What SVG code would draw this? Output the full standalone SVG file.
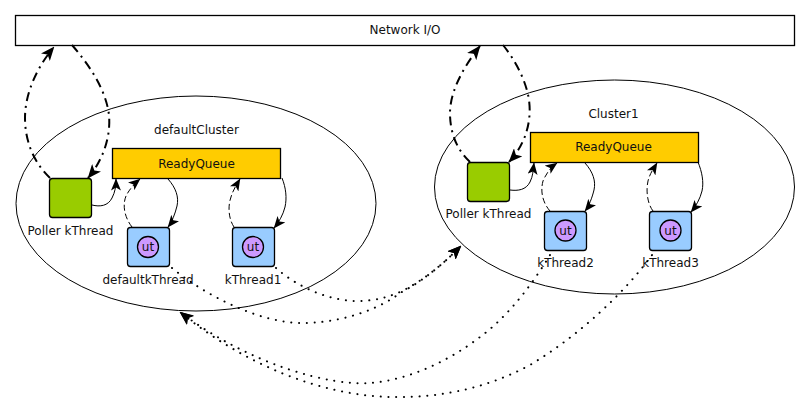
<svg xmlns="http://www.w3.org/2000/svg" width="809" height="413" viewBox="0 0 809 413">
<style>
text{font-family:"DejaVu Sans",sans-serif;font-size:12px;fill:#111;text-anchor:middle}
.b{stroke:#000;stroke-width:1.3}
.ell{fill:#fff;stroke:#000;stroke-width:1}
.c{fill:none;stroke:#000}
.s{stroke-width:1}
.d{stroke-width:1;stroke-dasharray:6 3}
.dd{stroke-width:2;stroke-dasharray:9 5 2 5}
.o{stroke-width:2;stroke-dasharray:0.1 7.7;stroke-linecap:round}
</style>
<defs>
<marker id="a" viewBox="0 0 12 10" refX="11.5" refY="5" markerWidth="12" markerHeight="10" markerUnits="userSpaceOnUse" orient="auto"><path d="M0,0L12,5L0,10L3,5Z" fill="#000"/></marker>
<marker id="A" viewBox="0 0 12 10" refX="11.5" refY="5" markerWidth="14" markerHeight="11.700" markerUnits="userSpaceOnUse" orient="auto"><path d="M0,0L12,5L0,10L3,5Z" fill="#000"/></marker>
</defs>
<rect width="809" height="413" fill="#fff"/>
<g id="network-io"><rect class="b" x="15.5" y="15.5" width="779" height="30" fill="#fff"/><text x="405" y="34">Network I/O</text></g>
<g id="defaultCluster"><ellipse class="ell" cx="196" cy="203.5" rx="180" ry="107.5"/><text x="196.500" y="134">defaultCluster</text></g>
<g id="Cluster1"><ellipse class="ell" cx="614.500" cy="187" rx="180" ry="107"/><text x="613.500" y="118">Cluster1</text></g>
<g id="rq0"><rect class="b" x="112.500" y="148.500" width="168" height="30" fill="#fc0"/><text x="196.500" y="168">ReadyQueue</text></g>
<g id="rq1"><rect class="b" x="530.500" y="132.500" width="168" height="30" fill="#fc0"/><text x="613.500" y="151">ReadyQueue</text></g>
<g id="poller0"><rect class="b" x="49.500" y="178.500" width="42" height="39" rx="3" fill="#9c0"/><text x="70.500" y="235">Poller kThread</text></g>
<g id="poller1"><rect class="b" x="467.500" y="162.500" width="42" height="39" rx="3" fill="#9c0"/><text x="488.500" y="218">Poller kThread</text></g>
<g id="defaultkThread"><rect class="b" x="127.500" y="227.500" width="42" height="39" rx="3" fill="#9cf"/><circle class="b" cx="148" cy="247" r="10.500" fill="#c9f"/><text x="148" y="251">ut</text><text x="148" y="284">defaultkThread</text></g>
<g id="kThread1"><rect class="b" x="232.500" y="227.500" width="42" height="39" rx="3" fill="#9cf"/><circle class="b" cx="253" cy="247" r="10.500" fill="#c9f"/><text x="253" y="251">ut</text><text x="253" y="284">kThread1</text></g>
<g id="kThread2"><rect class="b" x="544.500" y="211.500" width="42" height="39" rx="3" fill="#9cf"/><circle class="b" cx="565.500" cy="230.500" r="10.500" fill="#c9f"/><text x="565.500" y="267">kThread2</text><text x="565.500" y="234.500">ut</text></g>
<g id="kThread3"><rect class="b" x="649.500" y="211.500" width="42" height="39" rx="3" fill="#9cf"/><circle class="b" cx="670.500" cy="230.500" r="10.500" fill="#c9f"/><text x="670.500" y="267">kThread3</text><text x="670.500" y="234.500">ut</text></g>
<g id="connectors">
<path class="c dd" marker-end="url(#A)" d="M50,178C33,162 25,140 25,118C25,92 38,66 54,47"/>
<path class="c dd" marker-end="url(#A)" d="M72,45C90,66 106,90 109,115C111,137 103,160 88,178"/>
<path class="c dd" marker-end="url(#A)" d="M470,162C455,148 450,130 450,113C450,90 465,65 480,46"/>
<path class="c dd" marker-end="url(#A)" d="M503,45C515,60 526,80 529,100C532,122 525,145 509,162"/>
<path class="c s" marker-end="url(#a)" d="M92,205C100,207 108,206 112,198C115,192 116,187 116,179"/>
<path class="c s" marker-end="url(#a)" d="M510,190C518,191 526,190 530,182C533,176 533,171 534,163"/>
<path class="c d" marker-end="url(#a)" d="M132,227C125,218 122,206 126,196C129,190 134,184 140,179"/>
<path class="c d" marker-end="url(#a)" d="M234,227C228,218 228,205 231,197C233,190 237,184 240,179"/>
<path class="c d" marker-end="url(#a)" d="M550,211C543,203 540,192 543,181C546,174 550,168 557,163"/>
<path class="c d" marker-end="url(#a)" d="M653,211C647,203 646,190 648,181C650,173 654,168 657,163"/>
<path class="c s" marker-end="url(#a)" d="M168,179C176,188 179,197 177,206C175,214 172,222 168,227"/>
<path class="c s" marker-end="url(#a)" d="M282,178C286,188 287,198 285,207C283,215 279,222 274,228"/>
<path class="c s" marker-end="url(#a)" d="M585,163C593,172 596,181 594,190C592,198 589,206 585,211"/>
<path class="c s" marker-end="url(#a)" d="M698,162C702,172 704,182 702,191C700,199 696,206 691,212"/>
<path class="c o" marker-end="url(#A)" d="M172,268C205,295 260,324 305,323C350,322 385,305 400,293C425,280 445,262 461,246"/>
<path class="c o" marker-end="url(#A)" d="M276,268C295,285 325,300 355,301C375,301 385,298 400,292C425,280 445,262 461,246"/>
<path class="c o" marker-end="url(#A)" d="M550,255C535,280 510,315 480,337C450,360 410,380 370,383C330,386 250,365 180,312"/>
<path class="c o" marker-end="url(#A)" d="M652,255C625,292 580,335 530,365C480,392 430,398 390,397C320,395 245,365 180,312"/>
</g>
</svg>
